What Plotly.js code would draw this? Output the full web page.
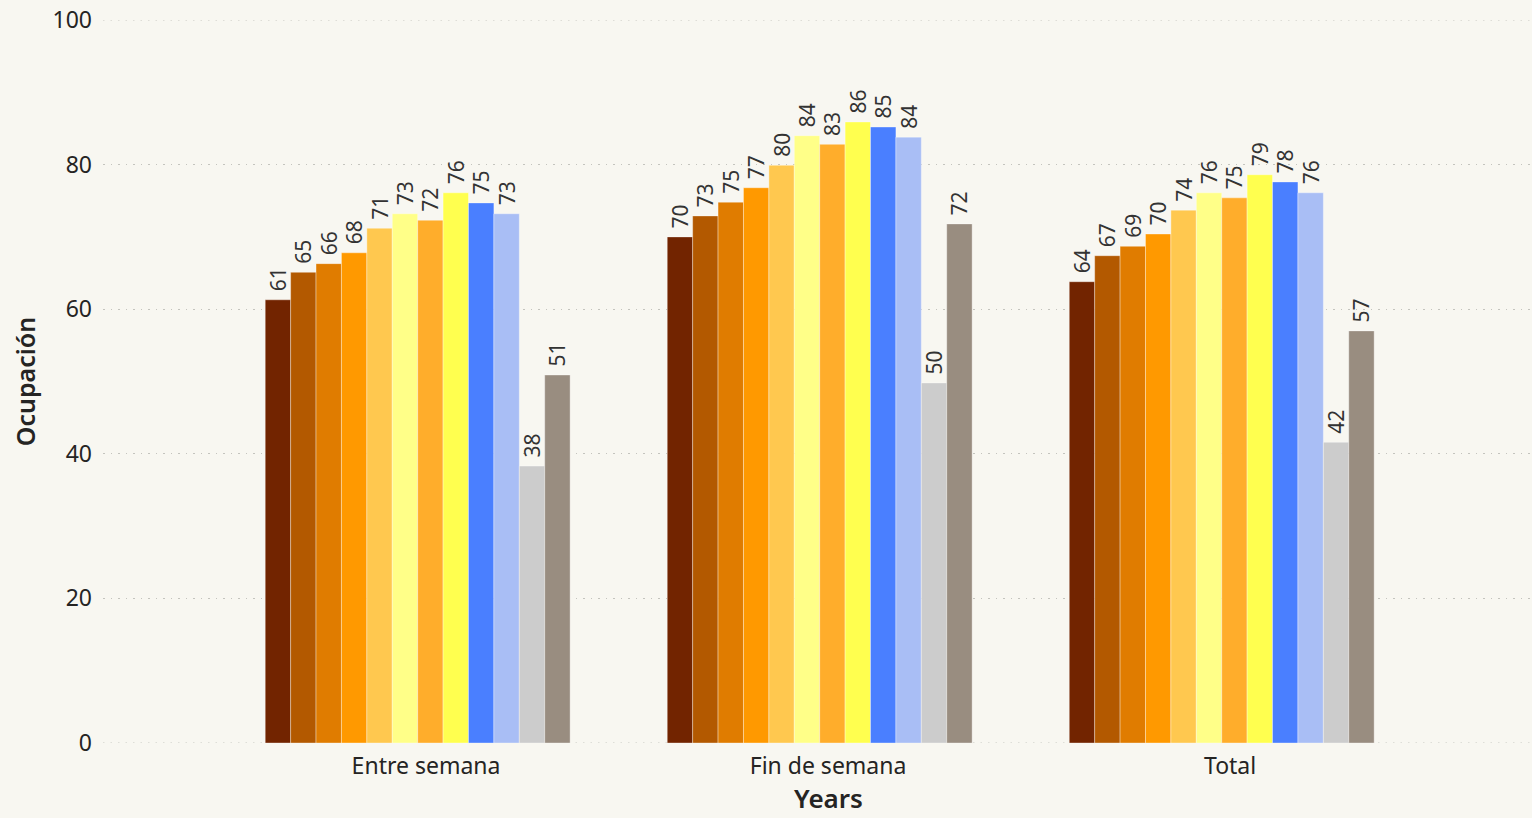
<!DOCTYPE html>
<html>
<head>
<meta charset="utf-8">
<script src="https://cdn.plot.ly/plotly-3.0.1.min.js"></script>
<style>html,body{margin:0;padding:0;background:#f8f7f1;}#chart{width:1532px;height:818px;}</style>
</head>
<body>
<div id="chart"></div>
<script>
const categories = ["Entre semana", "Fin de semana", "Total"];
const seriesNames = ["Serie 1","Serie 2","Serie 3","Serie 4","Serie 5","Serie 6","Serie 7","Serie 8","Serie 9","Serie 10","Serie 11","Serie 12"];
const s1  = [61.3, 70.0, 63.8];
const s2  = [65.1, 72.9, 67.4];
const s3  = [66.3, 74.8, 68.7];
const s4  = [67.8, 76.8, 70.4];
const s5  = [71.2, 79.9, 73.7];
const s6  = [73.2, 84.0, 76.1];
const s7  = [72.3, 82.8, 75.4];
const s8  = [76.1, 85.9, 78.6];
const s9  = [74.7, 85.2, 77.6];
const s10 = [73.2, 83.8, 76.1];
const s11 = [38.3, 49.8, 41.6];
const s12 = [50.9, 71.8, 57.0];
const seriesValues = [s1,s2,s3,s4,s5,s6,s7,s8,s9,s10,s11,s12];
const yTicks = [0, 20, 40, 60, 80, 100];
const colors = ["#722400","#b35900","#e07c00","#ff9900","#ffc84f","#ffff88","#ffad2b","#ffff4f","#4a7fff","#a9bef5","#cccccc","#998d80"];

const FONT = "Noto Sans, Open Sans, sans-serif";
const BAR_W = 0.0632;
const GROUP_START = -0.4;
const GRID_COLOR = "#c4c4be";
const GRID_DASH = "1.5px,6px";
const traces = seriesValues.map((vals, i) => ({
  type: "bar",
  name: seriesNames[i],
  x: categories,
  y: vals,
  width: BAR_W,
  offset: GROUP_START + i * BAR_W,
  marker: {color: colors[i], line: {color: "rgba(255,255,255,0.35)", width: 1}},
  text: vals.map(v => "\u00a0" + Math.round(v).toString()),
  textposition: "outside",
  textangle: -90,
  constraintext: "none",
  cliponaxis: false,
  textfont: {family: FONT, size: 21, color: "#333333"},
  hoverinfo: "x+y+name"
}));

const edgeLines = [yTicks[0], yTicks[yTicks.length - 1]].map(v => ({
  type: "line", xref: "paper", yref: "y", x0: 0, x1: 1, y0: v, y1: v,
  layer: "below", line: {color: GRID_COLOR, width: 1, dash: GRID_DASH}
}));

const layout = {
  width: 1532, height: 818,
  paper_bgcolor: "#f8f7f1",
  plot_bgcolor: "#f8f7f1",
  margin: {l: 103, r: 0, t: 20, b: 75},
  showlegend: false,
  barmode: "overlay",
  font: {family: FONT, color: "#252423"},
  shapes: edgeLines,
  annotations: [{
    text: "Years", xref: "x", yref: "paper", x: categories[1], y: 0,
    yshift: -36, yanchor: "top", xanchor: "center", showarrow: false, borderpad: 0,
    font: {family: FONT, size: 26, color: "#252423", weight: 600}
  }],
  xaxis: {
    type: "category",
    range: [-0.8035, 2.751],
    showgrid: false,
    zeroline: false,
    showline: false,
    ticks: "",
    ticklabelstandoff: 7,
    tickfont: {family: FONT, size: 23, color: "#252423"}
  },
  yaxis: {
    range: [0, 100],
    tickvals: yTicks,
    showgrid: true,
    gridcolor: GRID_COLOR,
    griddash: GRID_DASH,
    gridwidth: 1,
    zeroline: false,
    showline: false,
    ticks: "",
    ticklabelstandoff: 10,
    tickfont: {family: FONT, size: 23, color: "#252423"},
    title: {text: "Ocupación", font: {family: FONT, size: 25, color: "#252423", weight: 600}, standoff: 9}
  }
};

Plotly.newPlot("chart", traces, layout, {displayModeBar: false});
</script>
</body>
</html>
